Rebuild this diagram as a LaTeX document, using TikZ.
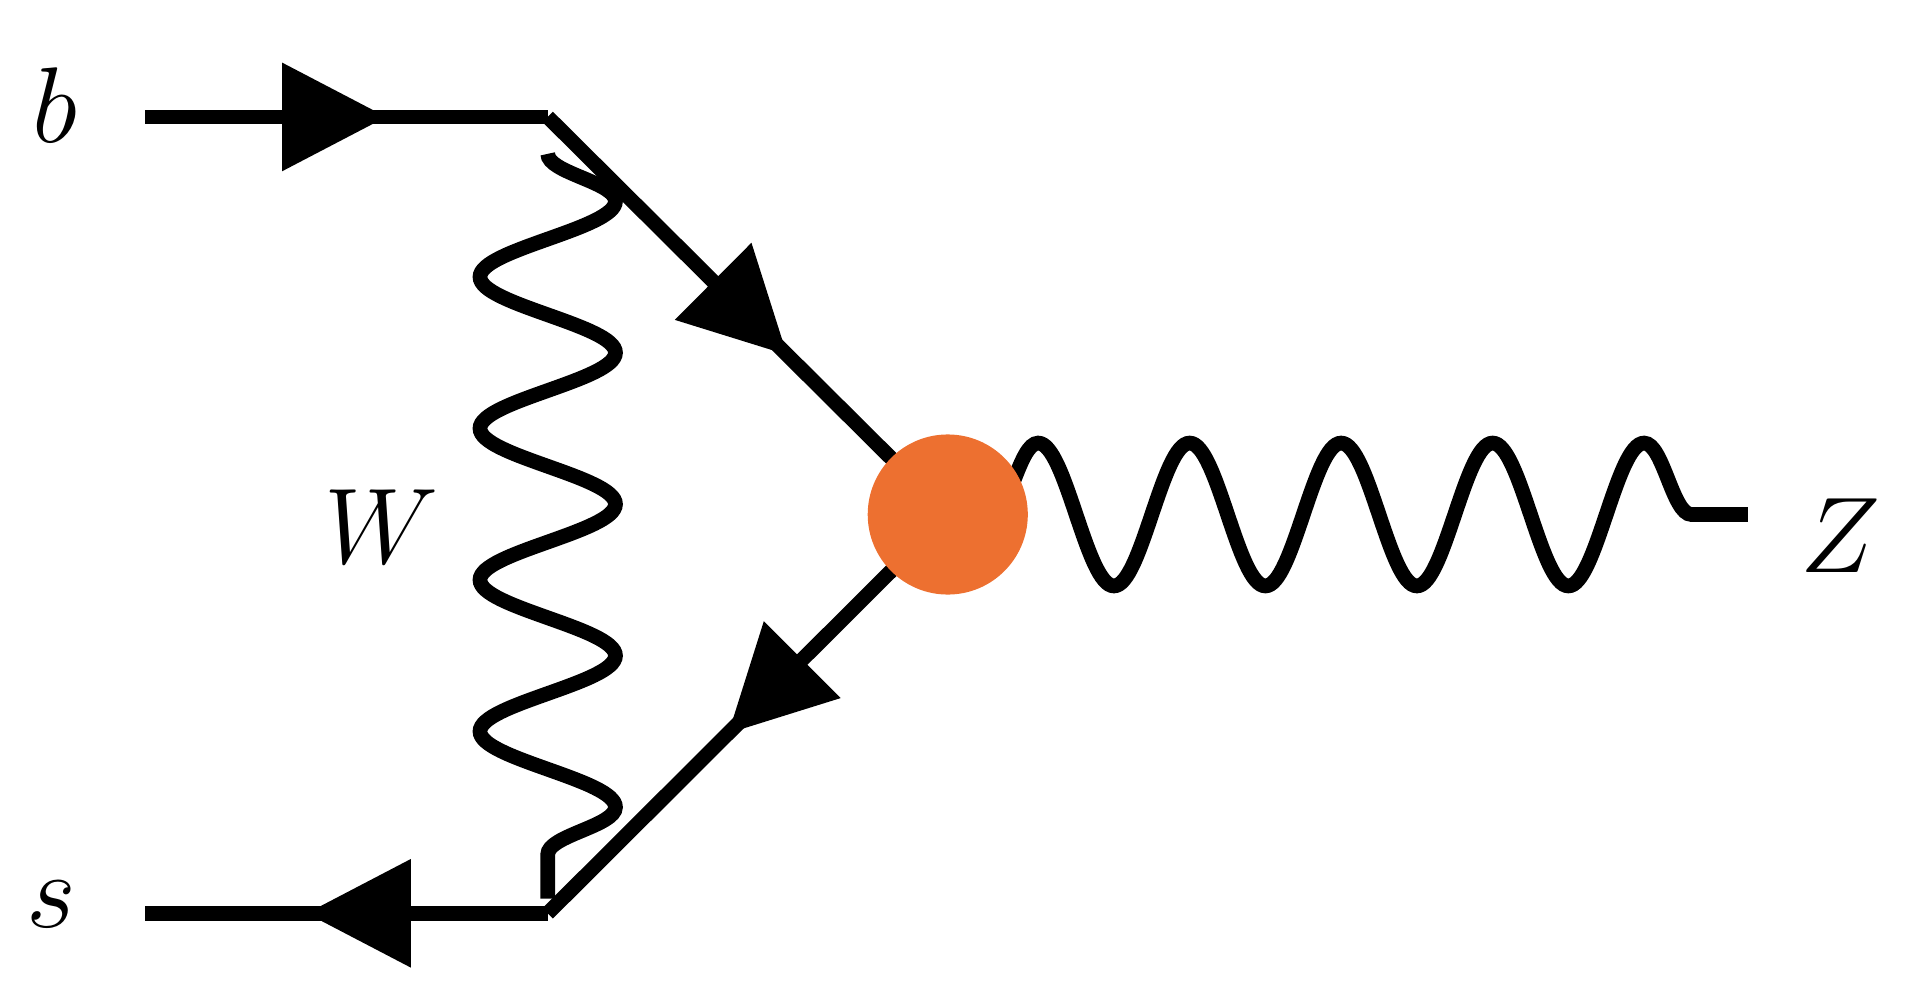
\documentclass[tikz,border=0pt]{standalone}
\usetikzlibrary{decorations.pathmorphing,decorations.markings,arrows.meta}
\definecolor{blob}{HTML}{ED7030}
\tikzset{
  fermion/.style={line width=3.4pt,postaction={decorate},decoration={markings,mark=at position #1 with {\arrow{Triangle[length=0.85cm,width=0.85cm]}}}},
  boson/.style={line width=3.4pt,decorate,decoration={snake,amplitude=0.55cm,segment length=1.23cm}},
  lbl/.style={font=\fontsize{44}{44}\selectfont}
}
\begin{document}
\begin{tikzpicture}[x=0.01cm,y=-0.01cm]
\useasboundingbox (0,0) rectangle (1568,806);
\coordinate (bi) at (118,95);
\coordinate (v1) at (445,95);
\coordinate (si) at (118,742);
\coordinate (v2) at (445,742);
\coordinate (c) at (770,418);
\coordinate (w1) at (445,125);
\coordinate (w2) at (445,730);
\coordinate (z0) at (805,418);
\coordinate (z1) at (1420,418);
\draw[fermion=0.6] (bi) -- (v1);
\draw[fermion=0.6] (v1) -- (c);
\draw[fermion=0.55] (c) -- (v2);
\draw[fermion=0.6] (v2) -- (si);
\draw[boson] (w1) -- (w2);
\draw[boson,decoration={snake,amplitude=0.58cm,segment length=1.23cm}] (z0) -- (z1);
\node[circle,fill=blob,minimum size=1.3cm,inner sep=0] (bl) at (c) {};
\node[lbl] (lb) at (45,85) {$b$};
\node[lbl] (ls) at (42,735) {$s$};
\node[lbl] (lw) at (310,428) {$W$};
\node[lbl] (lz) at (1495,435) {$Z$};
\end{tikzpicture}
\end{document}
